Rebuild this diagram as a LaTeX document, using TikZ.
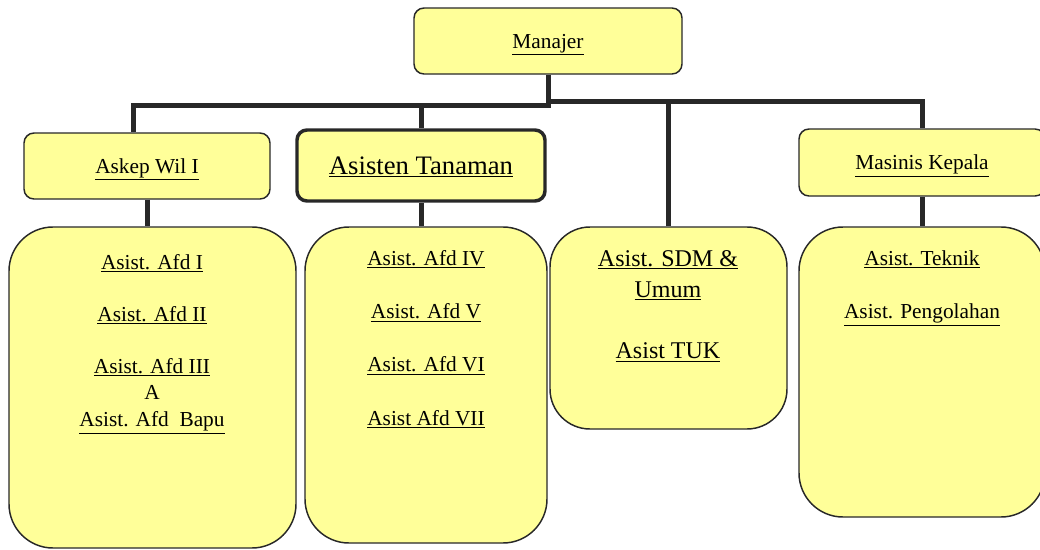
\documentclass[tikz,border=0pt]{standalone}
\usepackage{fontspec}
\setmainfont{Liberation Serif}
\usetikzlibrary{positioning}
\definecolor{boxfill}{RGB}{255,255,153}
\definecolor{linegray}{RGB}{40,40,40}
\newcommand{\und}[1]{\underline{#1}}
\tikzset{
post/.style={draw=linegray, fill=boxfill, line width=1.1pt, rounded corners=7.5pt, inner sep=0pt, align=center, text height=11pt, text depth=0pt, font=\fontsize{16}{20}\selectfont}, % level 1-2 boxes
chief/.style={post, line width=2.6pt, text height=13.5pt, font=\fontsize{20}{24}\selectfont},
staff/.style={draw=linegray, fill=boxfill, line width=1.1pt, rounded corners=33pt, inner sep=0pt},
stafftext/.style={anchor=north, inner sep=0pt, align=center, font=\fontsize{16}{20}\selectfont},
bus/.style={draw=linegray, line width=3.75pt},
}

\begin{document}
\begin{tikzpicture}[x=0.75pt,y=0.75pt,yscale=-1,xscale=1]
\useasboundingbox (0,0) rectangle (1040,550);
%Rounded Rect
\node[post, minimum width=201pt, minimum height=49.5pt] (manajer) at (548,41) {\und{Manajer}};
%Rounded Rect
\node[post, minimum width=184.5pt, minimum height=49.5pt] (askep) at (147,166) {\und{Askep Wil I}};
\node[chief, minimum width=186pt, minimum height=53.25pt] (tanaman) at (421,165.5) {\und{Asisten Tanaman}};
\node[post, minimum width=184.5pt, minimum height=50.25pt] (masinis) at (922,162.5) {\und{Masinis Kepala}};
%Rounded Rect
\node[staff, minimum width=215.25pt, minimum height=240.75pt] (afdA) at (152.5,387.5) {};
\node[staff, minimum width=181.5pt, minimum height=237pt] (afdB) at (426,385) {};
\node[staff, minimum width=177.75pt, minimum height=151.5pt, rounded corners=30pt] (sdm) at (668.5,328) {};
\node[staff, minimum width=184.5pt, minimum height=217.5pt] (teknik) at (922,372) {};
%Texts
\node[stafftext] (afdA-txt) at (152,254) {\und{Asist. Afd I}\\[19pt]\und{Asist. Afd II}\\[19pt]\und{Asist. Afd III}\\A\\\und{Asist. Afd\ \ Bapu}};
\node[stafftext] (afdB-txt) at (426,250) {\und{Asist. Afd IV}\\[20pt]\und{Asist. Afd V}\\[20pt]\und{Asist. Afd VI}\\[20pt]\und{Asist Afd VII}};
\node[stafftext, font=\fontsize{18}{23.5}\selectfont] (sdm-txt) at (668,250) {\und{Asist. SDM \&}\\\und{Umum}\\[22.5pt]\und{Asist TUK}};
\node[stafftext] (teknik-txt) at (922,250) {\und{Asist. Teknik}\\[20pt]\und{Asist. Pengolahan}};
%Straight Lines
\coordinate (busL) at (133,105);
\coordinate (busR) at (922,101);
\draw[bus] (manajer.south) -- (manajer.south |- busL) -- (busL) -- (busL |- askep.north);
\draw[bus] (manajer.south |- busR) -- (busR) -- (masinis.north);
\draw[bus] (tanaman.north) -- (tanaman.north |- busL);
\draw[bus] (sdm.north) -- (sdm.north |- busR);
%Straight Lines
\draw[bus] (askep.south) -- (askep.south |- afdA.north);
\draw[bus] (tanaman.south) -- (tanaman.south |- afdB.north);
\draw[bus] (masinis.south) -- (masinis.south |- teknik.north);
\end{tikzpicture}
\end{document}
